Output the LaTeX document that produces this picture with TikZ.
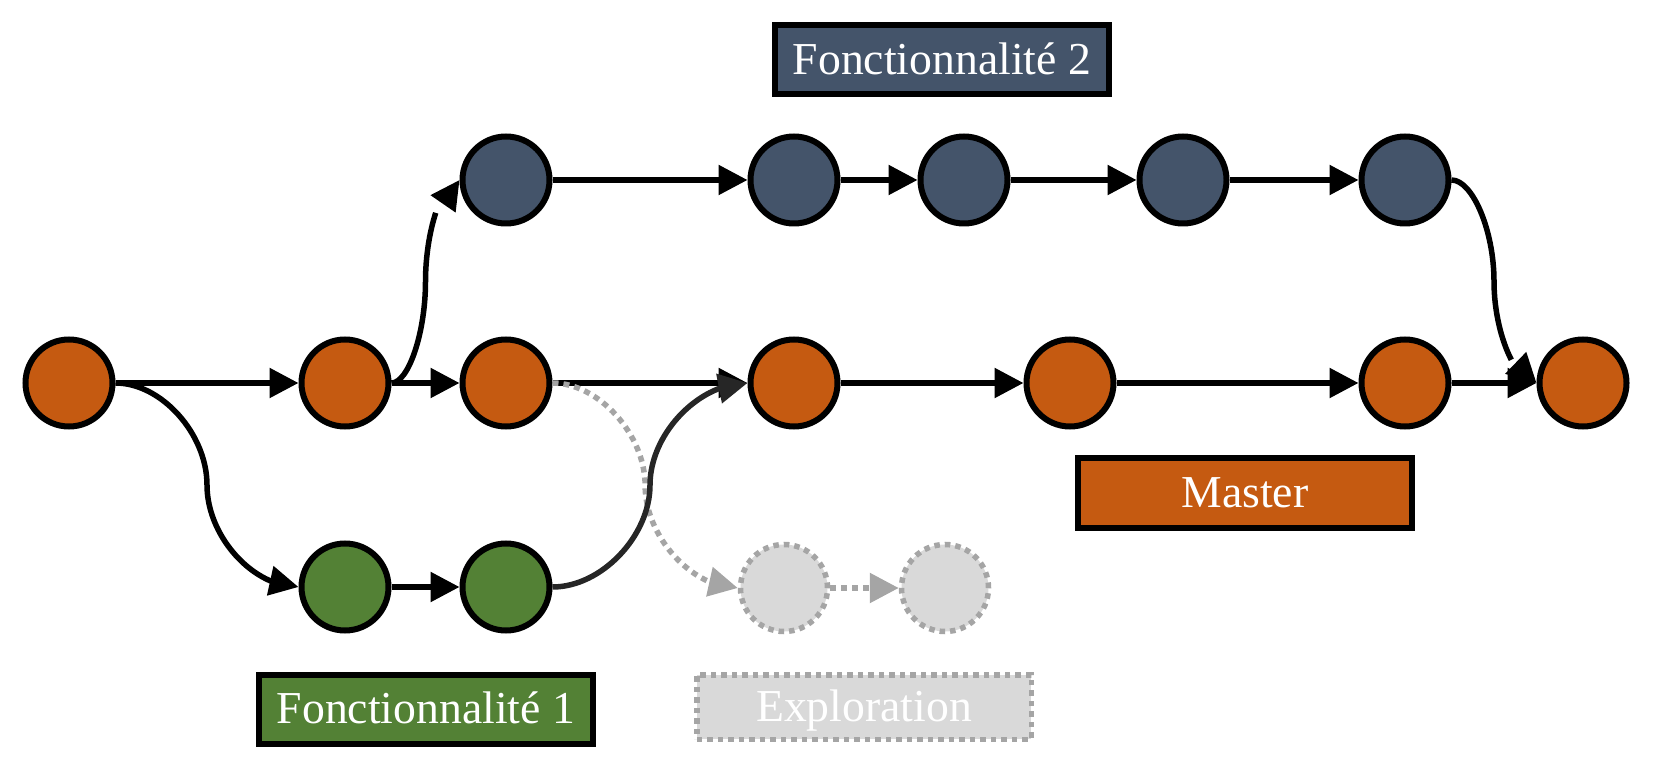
\documentclass[tikz,border=0pt]{standalone}
\usepackage{fontspec}
\setmainfont{Liberation Serif}
\usetikzlibrary{arrows.meta, bending, calc}
\usepackage{xcolor}
\definecolor{masterorange}{HTML}{C55A11}
\definecolor{featureslate}{HTML}{44546A}
\definecolor{featuregreen}{HTML}{538135}
\definecolor{explorefill}{HTML}{D9D9D9}
\definecolor{exploreline}{HTML}{A5A5A5}
\definecolor{mergegray}{HTML}{262626}
\def\commitsize{1.74cm}

\begin{document}
\begin{tikzpicture}[x=0.2mm,y=-0.2mm,->,>={Triangle[length=5.8mm,width=5.8mm,flex]},line width=1.1mm]
    \tikzstyle{commit}=[circle,minimum size=\commitsize,inner sep=0pt,line width=1.2mm,draw=black]
    \tikzstyle{master commit}=[commit,fill=masterorange]
    \tikzstyle{feature1 commit}=[commit,fill=featuregreen]
    \tikzstyle{feature2 commit}=[commit,fill=featureslate]
    \tikzstyle{explore commit}=[commit,fill=explorefill,draw=exploreline,line width=1.1mm,dash pattern=on 1.1mm off 1mm]
    \tikzstyle{explore line}=[color=exploreline,dash pattern=on 1.2mm off 1mm]
    \tikzstyle{branch label}=[rectangle,draw=black,line width=1.2mm,minimum width=6.68cm,minimum height=1.38cm,inner sep=0pt,text=white,font=\fontsize{26}{30}\selectfont,text height=17pt,text depth=0pt]
    \tikzstyle{explore label}=[fill=explorefill,draw=exploreline,line width=1.1mm,dash pattern=on 1.1mm off 1mm,minimum width=6.69cm,minimum height=1.29cm]

    \useasboundingbox (0,0) rectangle (1655,768);

    % Draw the master branch commits
    \foreach \name / \x in {1/69,2/345,3/506,4/794,5/1070,6/1405,7/1583}
        \node[master commit] (M-\name) at (\x,383) {};

    % Draw the commits of the two features
    \foreach \name / \x in {1/345,2/506}
        \node[feature1 commit] (FA-\name) at (\x,587) {};
    \foreach \name / \x in {1/506,2/794,3/964,4/1183,5/1405}
        \node[feature2 commit] (FB-\name) at (\x,180) {};

    % Draw the abandoned exploration commits
    \foreach \name / \x in {1/784,2/945}
        \node[explore commit] (X-\name) at (\x,588) {};

    % Connect the commits along each branch
    \foreach \source / \dest in {1/2,2/3,3/4,4/5,5/6,6/7}
        \draw (M-\source) -- (M-\dest);
    \draw (FA-1) -- (FA-2);
    \foreach \source / \dest in {1/2,2/3,3/4,4/5}
        \draw (FB-\source) -- (FB-\dest);
    \draw[explore line] (X-1) -- (X-2);

    % Branch off and merge back, curved like the slide connectors
    \draw (M-1.east) .. controls +(46,0) and +(0,-51) .. ($(M-1.east)!.5!(FA-1.west)$)
        .. controls +(0,51) and +(-46,0) .. (FA-1.west);
    \draw (M-2.east) .. controls +(17,0) and +(0,51) .. ($(M-2.east)!.5!(FB-1.west)$)
        .. controls +(0,-51) and +(-17,0) .. (FB-1.west);
    \draw[explore line] (M-3.east) .. controls +(46,0) and +(0,-51) .. ($(M-3.east)!.5!(X-1.west)$)
        .. controls +(0,51) and +(-46,0) .. (X-1.west);
    \draw[color=mergegray] (FA-2.east) .. controls +(49,0) and +(0,51) .. ($(FA-2.east)!.5!(M-4.west)$)
        .. controls +(0,-51) and +(-49,0) .. (M-4.west);
    \draw (FB-5.east) .. controls +(21,0) and +(0,-51) .. ($(FB-5.east)!.5!(M-7.west)$)
        .. controls +(0,51) and +(-21,0) .. (M-7.west);

    % Branch names
    \node[branch label,fill=featureslate] (FB-label) at (942,60) {Fonctionnalité 2};
    \node[branch label,fill=masterorange] (M-label) at (1245,493) {Master};
    \node[branch label,fill=featuregreen] (FA-label) at (426,709) {Fonctionnalité 1};
    \node[branch label,explore label] (X-label) at (864,707) {Exploration};
\end{tikzpicture}
\end{document}
